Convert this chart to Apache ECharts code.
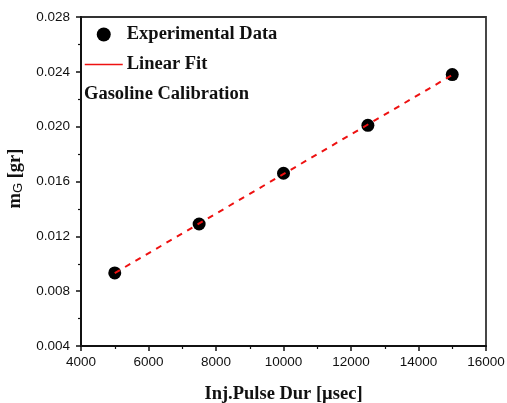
<!DOCTYPE html>
<html>
<head>
<meta charset="utf-8">
<script src="https://cdn.jsdelivr.net/npm/echarts@6/dist/echarts.min.js"></script>
<style>
  html, body { margin: 0; padding: 0; background: #fff; }
  #chart { width: 507px; height: 403px; }
</style>
</head>
<body>
<div id="chart"></div>
<script>
// Injection pulse duration [µsec] vs. injected gasoline mass [gr]
const pulseDur = [5000, 7500, 10000, 12500, 15000];
const massG = [0.00933, 0.0129, 0.0166, 0.0201, 0.0238];

// Linear fit end points
const fitX = [5000, 15000];
const fitY = [0.00932, 0.02377];

const xTicks = { min: 4000, max: 16000, interval: 2000 };
const yTicks = { min: 0.004, max: 0.028, interval: 0.004 };

const serif = '"Liberation Serif", "Times New Roman", serif';
const sans = '"Liberation Sans", Arial, sans-serif';

const chart = echarts.init(document.getElementById('chart'));

chart.setOption({
  animation: false,
  backgroundColor: '#fff',
  grid: {
    left: 81, right: 21, top: 17, bottom: 57,
    containLabel: false, outerBoundsMode: 'none',
    show: true, borderColor: '#333', borderWidth: 1.8
  },
  title: {
    text: 'Gasoline Calibration',
    left: 84, top: 85, padding: 0,
    textStyle: { fontFamily: serif, fontWeight: 'bold', fontSize: 18.5, color: '#111' }
  },
  legend: {
    orient: 'vertical',
    left: 84, top: 25, padding: 0,
    itemWidth: 38, itemHeight: 14, itemGap: 11,
    textStyle: { fontFamily: serif, fontWeight: 'bold', fontSize: 18.5, lineHeight: 14, color: '#111', padding: [0, 0, 0, -1] },
    data: [
      { name: 'Experimental Data', icon: 'circle', itemStyle: { color: '#000', opacity: 1 } },
      { name: 'Linear Fit', itemStyle: { opacity: 0 }, lineStyle: { type: 'solid', width: 1.5, color: '#ee1111' } }
    ]
  },
  xAxis: {
    type: 'value',
    min: xTicks.min, max: xTicks.max, interval: xTicks.interval,
    name: 'Inj.Pulse Dur [µsec]',
    nameLocation: 'middle', nameGap: 39,
    nameTextStyle: { fontFamily: serif, fontWeight: 'bold', fontSize: 18.5, color: '#111' },
    axisLine: { lineStyle: { color: '#111', width: 2 } },
    axisTick: { inside: false, length: 5, lineStyle: { color: '#111', width: 1.5 } },
    minorTick: { show: true, splitNumber: 2, length: 3, lineStyle: { color: '#111', width: 1.2 } },
    axisLabel: { fontFamily: sans, fontSize: 13.5, color: '#111', margin: 9, formatter: v => String(v) },
    splitLine: { show: false }
  },
  yAxis: {
    type: 'value',
    min: yTicks.min, max: yTicks.max, interval: yTicks.interval,
    name: '{m|m}{s|G}{m| [gr]}',
    nameLocation: 'middle', nameGap: 54,
    nameTextStyle: {
      padding: [0, 0, 0, 6],
      rich: {
        m: { fontFamily: serif, fontWeight: 'bold', fontSize: 18.5, color: '#111' },
        s: { fontFamily: sans, fontSize: 13, color: '#111', padding: [7, 0, 0, 0] }
      }
    },
    axisLine: { lineStyle: { color: '#111', width: 2 } },
    axisTick: { inside: false, length: 5, lineStyle: { color: '#111', width: 1.5 } },
    minorTick: { show: true, splitNumber: 2, length: 3, lineStyle: { color: '#111', width: 1.2 } },
    axisLabel: {
      fontFamily: sans, fontSize: 13.5, color: '#111', margin: 11,
      formatter: v => v.toFixed(3)
    },
    splitLine: { show: false }
  },
  series: [
    {
      name: 'Linear Fit',
      type: 'line',
      data: fitX.map((x, i) => [x, fitY[i]]),
      symbol: 'none',
      color: '#ee1111',
      lineStyle: { color: '#ee1111', width: 2, type: [6, 6] },
      z: 3
    },
    {
      name: 'Experimental Data',
      type: 'scatter',
      data: pulseDur.map((x, i) => [x, massG[i]]),
      symbol: 'circle',
      symbolSize: 13,
      itemStyle: { color: '#000', opacity: 1 },
      z: 2
    }
  ]
});
</script>
</body>
</html>
